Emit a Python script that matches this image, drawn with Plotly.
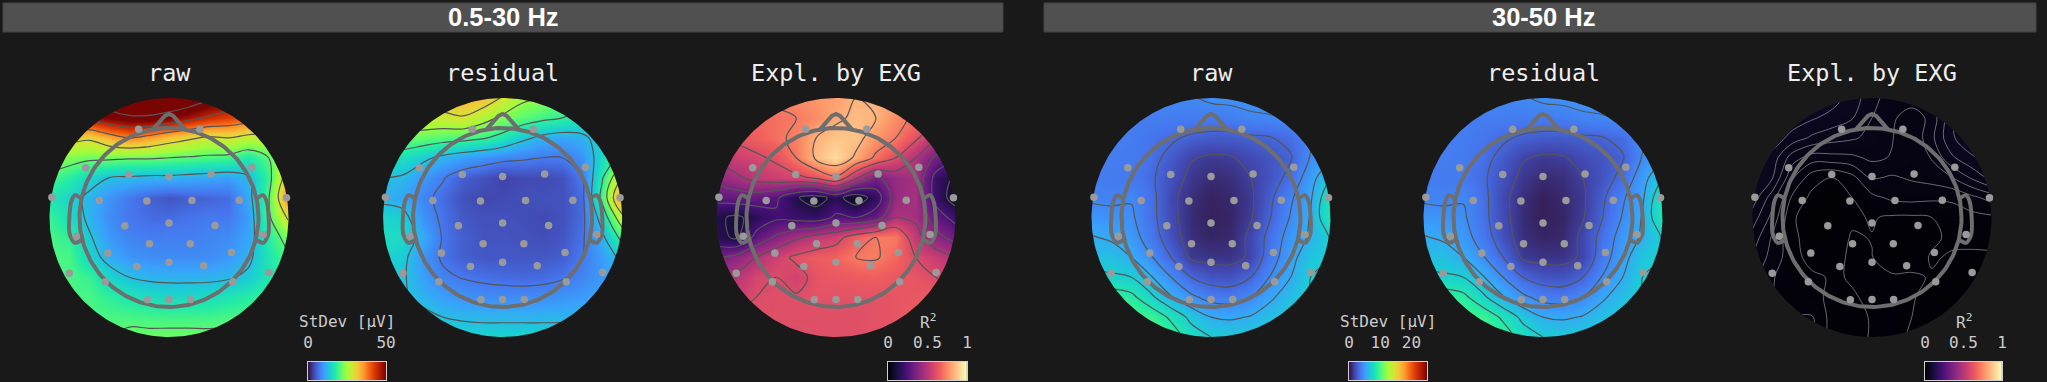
import math
import plotly.graph_objects as go

BG = "#191919"
W, H = 2047, 382
MONO = "DejaVu Sans Mono, monospace"

grid_x = [-1, -5/6, -4/6, -3/6, -2/6, -1/6, 0, 1/6, 2/6, 3/6, 4/6, 5/6, 1]
grid_y_top_down = [1, 5/6, 4/6, 3/6, 2/6, 1/6, 0, -1/6, -2/6, -3/6, -4/6, -5/6, -1]

raw_low = [
 [50,52,54,58,60,60,60,58,54,50,46,42,38],
 [45,46,47,50,52,52,50,47,44,42,40,36,34],
 [30,31,30,34,37,35,32,30,28,29,27,27,27],
 [24,23,22,22,21.5,21.5,21,20.5,20,19.5,17,21,28],
 [20,18,15,13,12.5,12,12,11.5,11,10.5,12.5,19,33],
 [17,15,12,9.5,7.5,5.8,4.8,5.5,6,6.5,11.5,20.5,38],
 [19,16,12,9,7.3,6.5,6.5,7,7.5,7.5,10.5,20,30],
 [20,18.5,13.5,10,8.4,7.8,8,8,8.5,9,11,18,23],
 [20,20,15,11.5,9.8,9.2,9,9,9,10,12,17,20.5],
 [20,20,19,15,13,12.2,12,12,12,12.5,14,17,19],
 [20,20,20,18.5,17,16,15.5,15.5,16,17,18,19.5,20],
 [20,20,20,20,20,19.7,19.5,19.5,19.6,20,20,20,20],
 [21,21,21,21,22,22,22.2,22.2,22,22,22,21,21],
]
residual_low = [
 [30,31,32,33,34,33,29,25,24,22,20,19,18],
 [28,28,28,28,29,26,23,21,19.5,18.5,17,16,15],
 [22,22,21.5,20.5,20,19,17,14,12,11,12,15,17],
 [16,16,14,12,10.5,9.5,8.5,8,7.5,7.5,9.5,15.5,20],
 [13,12.5,10,7.8,5.5,4.5,3.5,4,4,4.5,7.5,18,30],
 [12,11,8.5,6.5,4.5,3.8,4,4.3,4.5,4.5,6.5,20,37],
 [15,14.5,9.5,6.8,5,4.5,4.5,4.3,4,4.5,6.5,15,28],
 [16,15.5,11.5,7.2,5.5,4.7,4.7,4.5,4.3,4.8,7,12,20],
 [15,14,9.8,7,5.5,5,5,5,5,5.5,7.5,10.5,14],
 [14,13.5,10.5,8.2,7.3,6.8,6.5,6.3,6.5,7.2,8.5,10,12],
 [14,13.5,12,10.5,9.7,9.2,9,9,9.2,9.6,10.3,11.5,12],
 [15,15,14,13,12.5,12.2,12.2,12.2,12.2,12.3,12.6,13,13.5],
 [16,16,15.5,15,15,15,15,15,15,15,15,15,15],
]
explained_low = [
 [.68,.70,.72,.74,.76,.78,.80,.84,.84,.80,.76,.70,.68],
 [.64,.66,.68,.70,.72,.76,.82,.86,.84,.76,.70,.64,.60],
 [.58,.62,.66,.70,.74,.84,.88,.88,.78,.72,.62,.50,.44],
 [.50,.55,.58,.62,.72,.86,.93,.82,.70,.60,.48,.34,.26],
 [.40,.46,.52,.55,.57,.62,.70,.50,.34,.42,.46,.20,.10],
 [.28,.30,.30,.26,.13,.07,.16,.05,.17,.42,.46,.20,.06],
 [.14,.10,.16,.22,.20,.18,.26,.24,.30,.48,.46,.30,.20],
 [.16,.10,.28,.38,.46,.52,.56,.66,.72,.72,.52,.40,.32],
 [.34,.40,.48,.56,.62,.65,.67,.72,.73,.68,.60,.54,.48],
 [.46,.50,.58,.60,.56,.63,.64,.65,.66,.64,.63,.60,.56],
 [.52,.56,.60,.61,.61,.62,.62,.62,.62,.63,.64,.66,.64],
 [.58,.60,.61,.61,.61,.61,.61,.61,.62,.63,.65,.66,.66],
 [.60,.60,.60,.60,.60,.61,.61,.61,.62,.62,.64,.65,.65],
]
raw_high = [
 [4.3,4.3,4.3,4.3,4.3,4.3,4.6,4.7,4.8,4.9,4.9,5.0,5.0],
 [3.9,3.9,3.9,3.9,3.9,3.9,3.85,3.9,4.2,4.3,4.5,4.7,4.8],
 [3.9,3.9,3.9,3.6,3.2,2.8,2.6,2.6,2.8,2.95,3.3,4.4,5.0],
 [3.9,3.9,3.8,3.4,2.6,1.7,1.4,1.5,2.0,2.4,2.9,4.5,5.5],
 [3.9,3.8,3.8,3.2,2.2,1.3,0.9,1.0,1.6,2.4,3.4,5.2,7.2],
 [4.2,4.1,4.3,3.4,1.9,1.0,0.6,0.8,1.4,2.8,4.2,5.6,8.6],
 [4.9,4.8,4.6,3.4,2.0,0.9,0.55,0.7,1.5,3.0,4.5,5.9,8.7],
 [5.9,5.6,5.0,3.7,2.2,1.0,0.7,0.8,1.9,3.5,5.0,6.0,7.3],
 [6.5,6.5,5.8,4.5,3.0,1.4,1.2,1.2,1.8,3.8,5.3,6.8,7.2],
 [7.6,7.4,7.2,5.9,4.4,3.0,2.4,2.3,3.0,4.5,5.8,7.2,7.5],
 [9.5,9.5,9.0,7.5,5.9,4.7,3.9,3.8,4.4,5.6,6.5,7.2,7.5],
 [10,10,10,9.6,8.3,6.8,5.8,5.6,5.9,6.5,7.0,7.2,7.5],
 [10,10,10,10,9.5,8.0,7.2,7.0,7.0,7.2,7.4,7.5,7.5],
]
residual_high = [
 [4.3,4.3,4.3,4.3,4.3,4.3,4.6,4.7,4.8,4.9,4.9,5.0,5.0],
 [3.9,3.9,3.9,3.9,3.9,3.9,3.85,3.9,4.2,4.3,4.5,4.7,4.8],
 [3.9,3.9,3.9,3.6,3.2,2.8,2.6,2.6,2.8,2.95,3.3,4.4,5.0],
 [3.9,3.9,3.8,3.4,2.6,1.7,1.4,1.5,2.0,2.4,2.9,4.5,5.5],
 [3.9,3.8,3.8,3.2,2.2,1.3,0.9,1.0,1.6,2.4,3.4,5.2,7.2],
 [4.2,4.1,4.3,3.4,1.9,1.0,0.5,0.8,1.4,2.8,4.2,5.6,8.6],
 [4.9,4.8,4.6,3.4,2.0,0.9,0.5,0.7,1.5,3.0,4.5,5.9,8.7],
 [5.9,5.6,5.0,3.7,2.2,1.0,0.7,0.8,1.9,3.5,5.0,6.0,7.3],
 [6.5,6.5,5.8,4.5,3.0,1.4,1.2,1.2,1.8,3.8,5.3,6.8,7.2],
 [7.6,7.4,7.2,5.9,4.4,3.0,2.4,2.3,3.0,4.5,5.8,7.2,7.5],
 [9.5,9.5,9.0,7.5,5.9,4.7,3.9,3.8,4.4,5.6,6.5,7.2,7.5],
 [10,10,10,9.6,8.3,6.8,5.8,5.6,5.9,6.5,7.0,7.2,7.5],
 [10,10,10,10,9.5,8.0,7.2,7.0,7.0,7.2,7.4,7.5,7.5],
]
explained_high = [
 [.06,.06,.06,.06,.057,.05,.04,.035,.035,.04,.05,.056,.058],
 [.06,.06,.058,.054,.05,.046,.038,.032,.026,.033,.052,.058,.06],
 [.06,.058,.05,.044,.041,.039,.036,.031,.024,.036,.052,.058,.06],
 [.058,.05,.034,.027,.028,.029,.032,.03,.026,.031,.044,.052,.055],
 [.055,.046,.024,.011,.0075,.013,.024,.022,.024,.026,.03,.039,.048],
 [.05,.034,.014,.006,.004,.008,.0135,.017,.018,.017,.017,.021,.026],
 [.042,.028,.009,.004,.004,.007,.0085,.007,.0068,.008,.011,.013,.014],
 [.035,.022,.01,.004,.005,.0085,.0078,.005,.005,.007,.009,.011,.012],
 [.03,.02,.011,.005,.007,.0085,.0082,.004,.0055,.0085,.0075,.006,.006],
 [.025,.016,.012,.0095,.0072,.0085,.0092,.009,.0088,.0076,.005,.005,.005],
 [.02,.016,.013,.0105,.006,.0075,.009,.0095,.0085,.006,.004,.004,.004],
 [.02,.016,.016,.016,.005,.006,.0085,.0095,.008,.005,.003,.003,.003],
 [.02,.016,.016,.016,.005,.006,.0085,.009,.0075,.004,.003,.003,.003],
]

sensor_x = [-.254,.258,-.697,-.337,0,.352,.693,-.980,-.584,-.185,.192,.588,.983,
            -.370,0,.385,-.776,.787,-.163,.178,-.512,.522,-.835,.838,-.269,0,.290,
            -.533,.533,-.181,0,.181]
sensor_y = [.739,.739,.416,.360,.343,.365,.421,.170,.142,.139,.142,.145,.165,
            -.070,-.045,-.067,-.156,-.142,-.220,-.220,-.298,-.293,-.466,-.460,-.410,-.374,-.404,
            -.538,-.538,-.689,-.686,-.686]
nose_x = [-.134,-.035,0,.035,.134]
nose_y = [.737,.85,.866,.85,.737]
ear_x = [.735,.785,.818,.832,.79,.735]
ear_y = [.159,.187,.131,-.134,-.212,-.19]
HEAD_R = .749

map_titles = ["raw","residual","Expl. by EXG","raw","residual","Expl. by EXG"]
map_values = [raw_low,residual_low,explained_low,raw_high,residual_high,explained_high]
map_centers_px = [169,502.6,836,1211,1543,1872]
map_color_axes = ["coloraxis","coloraxis","coloraxis2","coloraxis3","coloraxis3","coloraxis4"]
contour_starts = [13,7.5,.12,1.6,1.6,.008]
contour_steps = [8,5.5,.12,1.4,1.4,.0075]
contour_colors = ["#555555"]*5 + ["rgba(210,210,210,0.55)"]
contour_widths = [1.2,1.2,1.2,1.2,1.2,0.9]

bar_titles = ["StDev [µV]","R<sup>2</sup>","StDev [µV]","R<sup>2</sup>"]
bar_spans_px = [(308,386),(888,967),(1349,1427),(1925,2002)]
bar_axes = ["coloraxis","coloraxis2","coloraxis3","coloraxis4"]
bar_max = [50,1,25,1]
bar_ticks = [[0,50],[0,.5,1],[0,10,20],[0,.5,1]]
bar_labels = [["0","50"],["0","0.5","1"],["0","10","20"],["0","0.5","1"]]

MAP_R = 119.5
CY = 217.5
RANGE = 1.1

fig = go.Figure()
layout_axes = {}
theta = [2*math.pi*i/240 for i in range(241)]
for i, (t, z, cx, ca, s0, ds, cc, cw) in enumerate(zip(map_titles,map_values,map_centers_px,map_color_axes,contour_starts,contour_steps,contour_colors,contour_widths)):
    n = "" if i == 0 else str(i+1)
    half = RANGE*MAP_R
    layout_axes[f"xaxis{n}"] = dict(domain=[(cx-half)/W,(cx+half)/W],range=[-RANGE,RANGE],visible=False,fixedrange=True)
    layout_axes[f"yaxis{n}"] = dict(domain=[1-(CY+half)/H,1-(CY-half)/H],range=[-RANGE,RANGE],visible=False,fixedrange=True)
    xa, ya = f"x{n}", f"y{n}"
    y_up = grid_y_top_down[::-1]
    z_up = z[::-1]
    fig.add_trace(go.Heatmap(x=grid_x,y=y_up,z=z_up,coloraxis=ca,zsmooth="best",xaxis=xa,yaxis=ya,hoverinfo="skip"))
    fig.add_trace(go.Contour(x=grid_x,y=y_up,z=z_up,showscale=False,xaxis=xa,yaxis=ya,hoverinfo="skip",
        contours=dict(coloring="none",start=s0,end=s0+ds*12,size=ds),
        line=dict(color=cc,width=cw,smoothing=1)))
    my = [-RANGE,-RANGE,RANGE,RANGE,0]+[math.sin(a) for a in theta]+[0]
    mx = [-RANGE,RANGE,RANGE,-RANGE,-RANGE]+[-math.cos(a) for a in theta]+[-RANGE]
    fig.add_trace(go.Scatter(x=mx,y=my,mode="lines",fill="toself",fillcolor=BG,line=dict(width=0,color=BG),
        xaxis=xa,yaxis=ya,hoverinfo="skip",showlegend=False))
    gray = "#6e6e6e"
    hx = [HEAD_R*math.cos(a) for a in theta]
    hy = [HEAD_R*math.sin(a) for a in theta]
    ln = dict(color=gray,width=4)
    fig.add_trace(go.Scatter(x=hx,y=hy,mode="lines",line=ln,xaxis=xa,yaxis=ya,hoverinfo="skip",showlegend=False))
    fig.add_trace(go.Scatter(x=nose_x,y=nose_y,mode="lines",line=ln,xaxis=xa,yaxis=ya,hoverinfo="skip",showlegend=False))
    for sign in (-1,1):
        fig.add_trace(go.Scatter(x=[sign*v for v in ear_x],y=ear_y,mode="lines",
            line=dict(color=gray,width=4,shape="spline",smoothing=.8),xaxis=xa,yaxis=ya,hoverinfo="skip",showlegend=False))
    fig.add_trace(go.Scatter(x=sensor_x,y=sensor_y,mode="markers",marker=dict(color="#9a9a9a",size=7.5,line=dict(width=0)),
        xaxis=xa,yaxis=ya,hoverinfo="skip",showlegend=False,cliponaxis=False))

annotations = []
for t, cx in zip(map_titles,map_centers_px):
    annotations.append(dict(text=t,x=cx/W,y=1-73/H,xref="paper",yref="paper",xanchor="center",yanchor="middle",showarrow=False,
        font=dict(family=MONO,size=23.5,color="#eeeeee")))

header_labels = ["0.5-30 Hz","30-50 Hz"]
header_spans = [(3,1003),(1044,2036)]
header_text_px = [503,1543]
shapes = []
for lab,(a,b),tx in zip(header_labels,header_spans,header_text_px):
    shapes.append(dict(type="rect",xref="paper",yref="paper",x0=a/W,x1=b/W,y0=1-32/H,y1=1-3/H,fillcolor="#505050",line=dict(color="#444444",width=1),layer="below"))
    annotations.append(dict(text=f"<b>{lab}</b>",x=tx/W,y=1-17/H,xref="paper",yref="paper",xanchor="center",yanchor="middle",showarrow=False,
        font=dict(family="Liberation Sans",size=25.5,color="white")))

for j,(title,(a,b),ca,mx_v,tv,tl) in enumerate(zip(bar_titles,bar_spans_px,bar_axes,bar_max,bar_ticks,bar_labels)):
    n = str(7+j)
    layout_axes[f"xaxis{n}"] = dict(domain=[a/W,b/W],range=[0,mx_v],side="top",anchor=f"y{n}",fixedrange=True,showgrid=False,zeroline=False,
        tickmode="array",tickvals=tv,ticktext=tl,ticks="outside",ticklen=7,tickcolor="rgba(0,0,0,0)",
        tickfont=dict(family=MONO,size=16,color="#cccccc"),showline=True,linecolor="#d0d0d0",linewidth=1,mirror=True)
    layout_axes[f"yaxis{n}"] = dict(domain=[1-380/H,1-362/H],range=[0,1],anchor=f"x{n}",fixedrange=True,showgrid=False,zeroline=False,
        showticklabels=False,ticks="",showline=True,linecolor="#d0d0d0",linewidth=1,mirror=True)
    ramp = [mx_v*k/255 for k in range(256)]
    fig.add_trace(go.Heatmap(x=ramp,y=[0,1],z=[ramp,ramp],coloraxis=ca,xaxis=f"x{n}",yaxis=f"y{n}",hoverinfo="skip"))
    annotations.append(dict(text=title,x=(a+b)/2/W,y=1-321/H,xref="paper",yref="paper",xanchor="center",yanchor="middle",showarrow=False,
        font=dict(family=MONO,size=16,color="#cccccc")))

fig.update_layout(
    width=W,height=H,autosize=False,paper_bgcolor=BG,plot_bgcolor=BG,showlegend=False,
    margin=dict(l=0,r=0,t=0,b=0,pad=0,autoexpand=False),
    shapes=shapes,annotations=annotations,
    coloraxis=dict(colorscale="Turbo",cmin=0,cmax=50,showscale=False),
    coloraxis2=dict(colorscale="Magma",cmin=0,cmax=1,showscale=False),
    coloraxis3=dict(colorscale="Turbo",cmin=0,cmax=25,showscale=False),
    coloraxis4=dict(colorscale="Magma",cmin=0,cmax=1,showscale=False),
    **layout_axes)
fig.write_html("out.html",config=dict(displayModeBar=False),
    post_script="document.body.style.margin='0';document.body.style.background='%s';" % BG)
